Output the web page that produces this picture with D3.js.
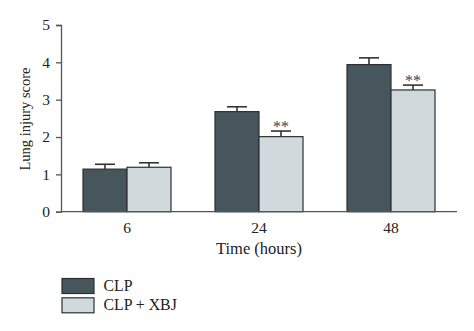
<!DOCTYPE html>
<html><head><meta charset="utf-8">
<script src="https://cdn.jsdelivr.net/npm/d3@7"></script>
<style>body{margin:0;background:#fff}svg{display:block}text{font-family:"Liberation Serif","DejaVu Serif",serif;fill:#222}</style>
</head><body>
<svg id="c" width="474" height="331"></svg>
<script>
const categories = ["6", "24", "48"];
const seriesNames = ["CLP", "CLP + XBJ"];
const clpValues = [1.14, 2.68, 3.94];
const clpErrors = [0.13, 0.13, 0.18];
const xbjValues = [1.19, 2.01, 3.26];
const xbjErrors = [0.12, 0.15, 0.13];
const xbjSignif = ["", "**", "**"];
const yTicks = [0, 1, 2, 3, 4, 5];
const colors = ["#47555c", "#d0d9dc"];

const svg = d3.select("#c");
const x0 = d3.scaleBand().domain(categories).range([61, 457]).paddingInner(1/3).paddingOuter(1/6);
const x1 = d3.scaleBand().domain(seriesNames).range([0, x0.bandwidth()]);
const y = d3.scaleLinear().domain([0, 5]).range([211.7, 25]);

const data = [];
categories.forEach((c, i) => {
  data.push({cat: c, s: seriesNames[0], v: clpValues[i], e: clpErrors[i], sig: "", ci: 0});
  data.push({cat: c, s: seriesNames[1], v: xbjValues[i], e: xbjErrors[i], sig: xbjSignif[i], ci: 1});
});

// error bars
const eb = svg.append("g").attr("stroke", "#333").attr("stroke-width", 1.6);
data.forEach(d => {
  const cx = x0(d.cat) + x1(d.s) + x1.bandwidth() / 2;
  eb.append("line").attr("x1", cx).attr("x2", cx).attr("y1", y(d.v)).attr("y2", y(d.v + d.e));
  eb.append("line").attr("x1", cx - 10).attr("x2", cx + 10).attr("y1", y(d.v + d.e)).attr("y2", y(d.v + d.e));
});

svg.append("g").selectAll("rect").data(data).join("rect")
  .attr("x", d => x0(d.cat) + x1(d.s))
  .attr("y", d => y(d.v))
  .attr("width", x1.bandwidth())
  .attr("height", d => y(0) - y(d.v))
  .attr("fill", d => colors[d.ci])
  .attr("stroke", "#2a3034").attr("stroke-width", 1.2);

svg.append("g").selectAll("text.sig").data(data.filter(d => d.sig)).join("text")
  .attr("x", d => x0(d.cat) + x1(d.s) + x1.bandwidth() / 2)
  .attr("y", d => y(d.v + d.e) + 1)
  .attr("text-anchor", "middle").attr("font-size", 16).style("fill", "#444")
  .text(d => d.sig);

// axes
const yAxis = svg.append("g").attr("transform", "translate(61,0)")
  .call(d3.axisLeft(y).tickValues(yTicks).tickSize(5).tickPadding(6).tickFormat(d3.format("d")));
const xAxis = svg.append("g").attr("transform", `translate(0,${y(0)})`)
  .call(d3.axisBottom(x0).tickSize(0).tickPadding(10));
[yAxis, xAxis].forEach(a => {
  a.select(".domain").attr("stroke", "#555").attr("stroke-width", 1.3);
  a.selectAll(".tick line").attr("stroke", "#555").attr("stroke-width", 1.3);
  a.selectAll("text").attr("font-size", 15.5).attr("font-family", "Liberation Serif, serif").style("fill", "#222");
});
xAxis.select(".domain").attr("d", "M61,0H457");

svg.append("text").attr("x", 259).attr("y", 254).attr("text-anchor", "middle").attr("font-size", 16.5).text("Time (hours)");
svg.append("text").attr("transform", "translate(30,119) rotate(-90)").attr("text-anchor", "middle").attr("font-size", 14.5).text("Lung injury score");

// legend
const lg = svg.append("g");
seriesNames.forEach((s, i) => {
  lg.append("rect").attr("x", 62).attr("y", 278.5 + i * 19.3).attr("width", 32).attr("height", 15)
    .attr("fill", colors[i]).attr("stroke", "#2a3034").attr("stroke-width", 1.2);
  lg.append("text").attr("x", 103.5).attr("y", 291 + i * 19.3).attr("font-size", 15.8).text(s);
});
</script>
</body></html>
